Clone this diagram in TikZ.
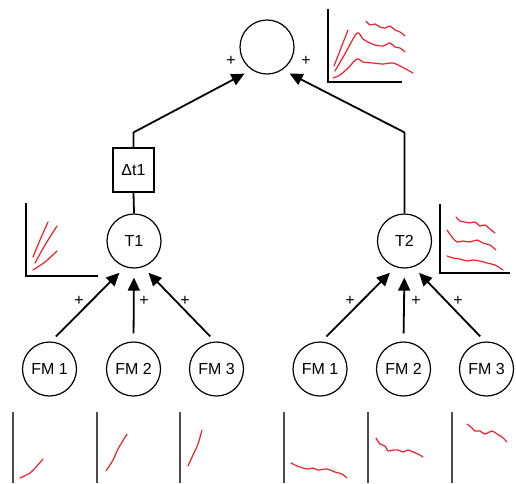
\documentclass[tikz,border=0pt]{standalone}
\usepackage{fontspec}
\setmainfont{Liberation Sans}
\usetikzlibrary{arrows.meta}
\definecolor{curvered}{RGB}{236,32,40}
\begin{document}
\begin{tikzpicture}[x=1pt,y=-1pt,
  nodecirc/.style={circle,draw,line width=1.2pt,minimum size=54pt,inner sep=0pt,font=\fontsize{16}{16}\selectfont},
  delaybox/.style={rectangle,draw,line width=1.2pt,minimum width=41pt,minimum height=44pt,inner sep=0pt,font=\fontsize{16}{16}\selectfont},
  conn/.style={line width=1.8pt,-{Triangle[length=13pt,width=12pt]}},
  plain/.style={line width=1.8pt},
  plus/.style={font=\fontsize{16}{16}\selectfont,inner sep=0pt},
  axis/.style={line width=1.5pt},
  baraxis/.style={line width=2pt,black!70},
  rc/.style={curvered,line width=1.2pt,line cap=round,line join=round}]
\useasboundingbox (0,0) rectangle (516,483);

% nodes
\node[nodecirc] (top) at (267,47) {};
\node[delaybox] (dt) at (133.5,170) {Δt1};
\node[nodecirc] (t1) at (134,241) {T1};
\node[nodecirc] (t2) at (404.5,241) {T2};
\node[nodecirc] (fa1) at (49.5,369) {FM 1};
\node[nodecirc] (fa2) at (133.5,369) {FM 2};
\node[nodecirc] (fa3) at (216.5,369) {FM 3};
\node[nodecirc] (fb1) at (320,369) {FM 1};
\node[nodecirc] (fb2) at (403.5,369) {FM 2};
\node[nodecirc] (fb3) at (486.5,369) {FM 3};

% connectors
\draw[conn,shorten >=8pt] (dt.north) -- ++(0,-15) -- (top.236);
\draw[conn,shorten >=8pt] (t2.north) -- ++(0,-81) -- (top.304);
\draw[plain] (dt.south) -- (t1.north);
\draw[conn,shorten <=7pt,shorten >=8pt] (fa1.87) -- (t1.251);
\draw[conn,shorten <=8pt,shorten >=9pt] (fa2.north) -- (t1.south);
\draw[conn,shorten <=7pt,shorten >=8pt] (fa3.93) -- (t1.289);
\draw[conn,shorten <=7pt,shorten >=8pt] (fb1.87) -- (t2.251);
\draw[conn,shorten <=8pt,shorten >=9pt] (fb2.north) -- (t2.south);
\draw[conn,shorten <=7pt,shorten >=8pt] (fb3.93) -- (t2.289);

% plus labels
\node[plus] (p1) at (231,61) {+};
\node[plus] (p2) at (306,61) {+};
\node[plus] (p3) at (79,301) {+};
\node[plus] (p4) at (144,301) {+};
\node[plus] (p5) at (185,301) {+};
\node[plus] (p6) at (350,301) {+};
\node[plus] (p7) at (416,301) {+};
\node[plus] (p8) at (458,301) {+};

% top graph
\draw[axis] (328,9) -- (328,82) -- (402,82);
\draw[rc] plot[smooth] coordinates {(334,66) (341,48) (348,30)};
\draw[rc] plot[smooth] coordinates {(335,71) (346,52) (357,33) (363,39) (368,42) (375,45) (383,46) (390,43) (395,47) (400,48) (405,52)};
\draw[rc] plot[smooth] coordinates {(333,78) (340,75) (348,68) (357,59) (363,62) (373,63) (383,64) (393,63) (402,67) (413,73)};
\draw[rc] plot[smooth] coordinates {(366,21) (370,25) (375,24) (380,27) (385,28) (390,26) (395,30) (400,32) (405,36)};

% T1 graph
\draw[axis] (26,203) -- (26,276) -- (98,276);
\draw[rc] plot[smooth] coordinates {(33,257) (40,240) (48,222)};
\draw[rc] plot[smooth] coordinates {(35,263) (45,245) (57,226)};
\draw[rc] plot[smooth] coordinates {(33,270) (45,262) (57,251)};

% T2 graph
\draw[axis] (440,204) -- (440,273) -- (510,273);
\draw[rc] plot[smooth] coordinates {(456,217) (460,221) (465,222) (470,223) (475,222) (480,226) (485,225) (490,229) (495,233)};
\draw[rc] plot[smooth] coordinates {(447,230) (452,237) (457,242) (463,241) (470,242) (477,240) (483,243) (490,245) (496,250)};
\draw[rc] plot[smooth] coordinates {(447,256) (453,258) (460,259) (467,261) (473,260) (480,261) (487,263) (495,265) (503,270)};

% bottom graphs
\foreach \xx in {13,97,180,284,368,452} \draw[baraxis] (\xx,412) -- (\xx,483);
\draw[rc] plot[smooth] coordinates {(20,478) (30,473) (36,467) (43,459)};
\draw[rc] plot[smooth] coordinates {(106,471) (113,460) (118,449) (127,434)};
\draw[rc] plot[smooth] coordinates {(188,466) (193,455) (198,444) (202,430)};
\draw[rc] plot[smooth] coordinates {(291,463) (297,466) (303,468) (308,469) (313,468) (318,470) (327,469) (335,472) (342,474) (347,478)};
\draw[rc] plot[smooth] coordinates {(376,438) (380,444) (385,446) (388,451) (393,450) (398,450) (403,452) (408,450) (413,452) (418,454) (423,457)};
\draw[rc] plot[smooth] coordinates {(467,424) (472,428) (475,431) (480,431) (485,434) (492,431) (497,434) (502,437) (507,442)};
\end{tikzpicture}
\end{document}
